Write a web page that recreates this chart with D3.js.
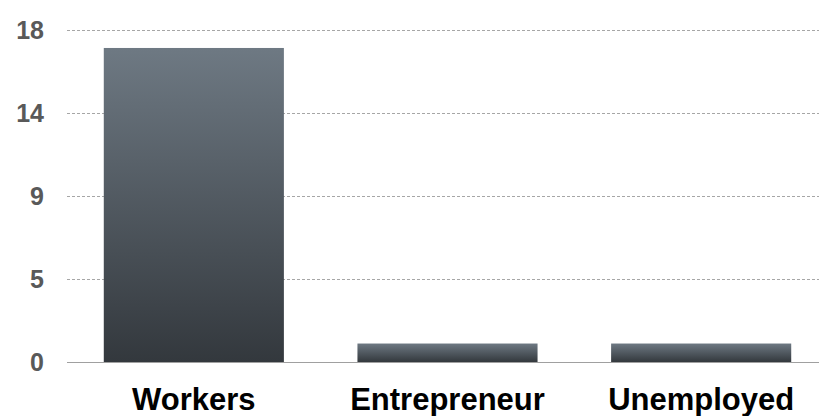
<!DOCTYPE html>
<html>
<head>
<meta charset="utf-8">
<script src="https://cdn.jsdelivr.net/npm/d3@7"></script>
<style>
  html, body { margin: 0; padding: 0; background: #fff; }
  svg { display: block; overflow: hidden; }
</style>
</head>
<body>
<div id="root"></div>
<script>
var categories = ['Workers', 'Entrepreneur', 'Unemployed'];
var values = [17, 1, 1];
var tickValues = [0, 4.5, 9, 13.5, 18];

var width = 819;
var height = 416;
var svg = d3.select('#root')
    .append('svg')
    .attr('width', width).attr('height', height);

var defs = svg.append('defs');
var grad = defs.append('linearGradient')
    .attr('id', 'barGrad')
    .attr('x1', 0).attr('y1', 0).attr('x2', 0).attr('y2', 1);
grad.append('stop').attr('offset', '0%').attr('stop-color', '#6e7983');
grad.append('stop').attr('offset', '100%').attr('stop-color', '#33383d');

var xScale = d3.scaleBand()
    .domain(categories)
    .range([67, 828])
    .paddingInner(0.29)
    .paddingOuter(0.145);
var yScale = d3.scaleLinear()
    .domain([0, 18])
    .range([362, 29.5]);

// gridlines
svg.selectAll('.grid')
    .data(tickValues.slice(1)).enter()
    .append('line')
    .attr('class', 'grid')
    .attr('x1', 67).attr('x2', width)
    .attr('y1', function (d) { return Math.round(yScale(d)) + 0.5; })
    .attr('y2', function (d) { return Math.round(yScale(d)) + 0.5; })
    .attr('stroke', '#a6a6a6')
    .attr('stroke-width', 1)
    .attr('stroke-dasharray', '3,2');

// bars
svg.selectAll('.bar')
    .data(values).enter()
    .append('rect')
    .attr('class', 'bar')
    .attr('x', function (d, i) { return xScale(categories[i]); })
    .attr('y', function (d) { return yScale(d); })
    .attr('width', xScale.bandwidth())
    .attr('height', function (d) { return yScale(0) - yScale(d); })
    .attr('fill', 'url(#barGrad)');

// baseline
svg.append('line')
    .attr('x1', 67).attr('x2', width)
    .attr('y1', yScale(0) + 0.5).attr('y2', yScale(0) + 0.5)
    .attr('stroke', '#a0a0a0')
    .attr('stroke-width', 1.2);

// y tick labels
svg.selectAll('.ytick')
    .data(tickValues).enter()
    .append('text')
    .attr('class', 'ytick')
    .attr('x', 44)
    .attr('y', function (d) { return yScale(d); })
    .attr('dy', '0.36em')
    .attr('text-anchor', 'end')
    .attr('font-family', 'Liberation Sans, Arial, sans-serif')
    .attr('font-weight', 'bold')
    .attr('font-size', 25)
    .attr('fill', '#595959')
    .text(function (d) { return Math.round(d); });

// category labels
svg.selectAll('.xlabel')
    .data(categories).enter()
    .append('text')
    .attr('class', 'xlabel')
    .attr('x', function (d) { return xScale(d) + xScale.bandwidth() / 2; })
    .attr('y', 410)
    .attr('text-anchor', 'middle')
    .attr('font-family', 'Liberation Sans, Arial, sans-serif')
    .attr('font-weight', 'bold')
    .attr('font-size', 31)
    .attr('fill', '#000')
    .text(function (d) { return d; });
</script>
</body>
</html>
